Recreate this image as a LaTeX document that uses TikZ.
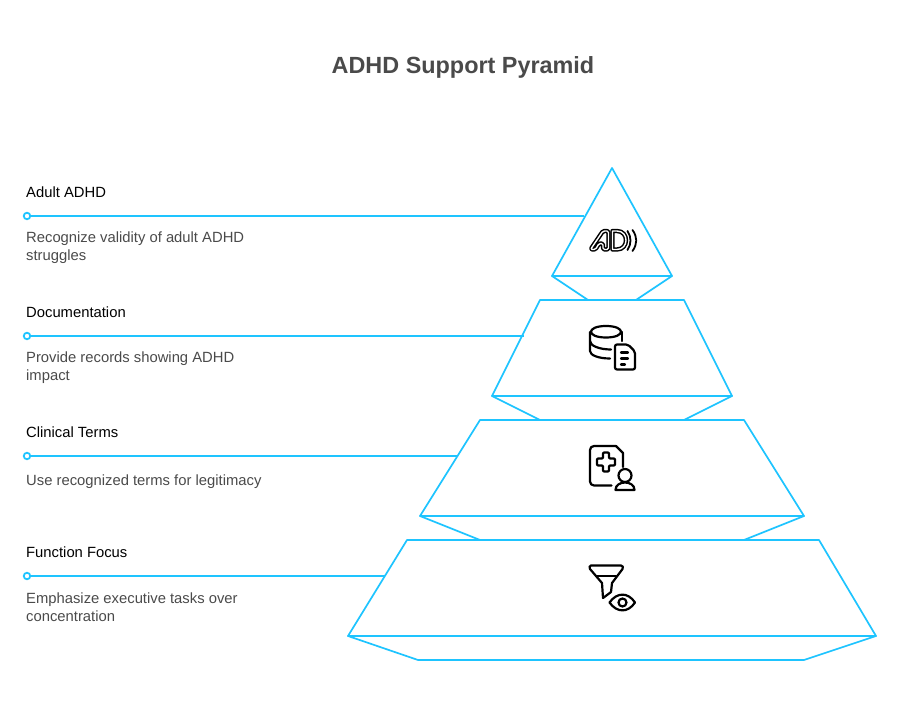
\documentclass[tikz,border=0pt]{standalone}
\usepackage{fontspec}
\setmainfont{Liberation Sans}
\definecolor{cy}{HTML}{1EC4FF}
\definecolor{tx}{HTML}{4A4A4A}
\tikzset{
 shp/.style={draw=cy,line width=1.7pt,line join=round,fill=white},
 lead/.style={draw=cy,line width=1.7pt},
 dotn/.style={circle,draw=cy,line width=1.8pt,fill=white,inner sep=0pt,minimum size=6.5pt},
 ttl/.style={anchor=base west,inner sep=0pt,font=\fontsize{14.8}{17}\selectfont,text=black},
 dsc/.style={anchor=base west,inner sep=0pt,font=\fontsize{14.8}{18}\selectfont,text=tx},
 ico/.style={draw=black,line width=2.2pt,line join=round,line cap=round},
 dbl/.style={draw=black,line width=1.5pt,double=white,double distance=1.4pt,line join=round,line cap=round}
}
\begin{document}
\begin{tikzpicture}[x=1pt,y=-1pt]
\useasboundingbox (0,0) rectangle (900,708);
\node[anchor=base,inner sep=0pt,font=\fontsize{23.4}{28}\selectfont\bfseries,text=tx] (title) at (463,74) {ADHD Support Pyramid};

% pyramid
\draw[shp] (552,276) -- (588,300) -- (636,300) -- (672,276) -- cycle;
\draw[shp] (612,168) -- (552,276) -- (672,276) -- cycle;
\draw[shp] (492,396) -- (540,420) -- (684,420) -- (732,396) -- cycle;
\draw[shp] (540,300) -- (684,300) -- (732,396) -- (492,396) -- cycle;
\draw[shp] (420,516) -- (480,540) -- (744,540) -- (804,516) -- cycle;
\draw[shp] (480,420) -- (744,420) -- (804,516) -- (420,516) -- cycle;
\draw[shp] (348,636) -- (418,660) -- (804,660) -- (876,636) -- cycle;
\draw[shp] (407,540) -- (819,540) -- (876,636) -- (348,636) -- cycle;

% leaders
\coordinate (e1) at (584,216);
\coordinate (e2) at (524,336);
\coordinate (e3) at (458,456);
\coordinate (e4) at (385,576);
\node[dotn] (d1) at (27,216) {};
\node[dotn] (d2) at (27,336) {};
\node[dotn] (d3) at (27,456) {};
\node[dotn] (d4) at (27,576) {};
\draw[lead] (d1) -- (e1);
\draw[lead] (d2) -- (e2);
\draw[lead] (d3) -- (e3);
\draw[lead] (d4) -- (e4);

% texts
\node[ttl] (t1) at (26,197.5) {Adult ADHD};
\node[dsc] (s1a) at (26,243) {Recognize validity of adult ADHD};
\node[dsc] (s1b) at (26,261) {struggles};
\node[ttl] (t2) at (26,317.5) {Documentation};
\node[dsc] (s2a) at (26,363) {Provide records showing ADHD};
\node[dsc] (s2b) at (26,381) {impact};
\node[ttl] (t3) at (26,437.5) {Clinical Terms};
\node[dsc] (s3a) at (26,485.5) {Use recognized terms for legitimacy};
\node[ttl] (t4) at (26,557.5) {Function Focus};
\node[dsc] (s4a) at (26,603) {Emphasize executive tasks over};
\node[dsc] (s4b) at (26,621) {concentration};

% icon 1: AD))
\draw[dbl,rounded corners=1.5pt] (590.5,249.5) -- (603,231) -- (608.5,231) -- (608.5,249.5) -- (603,249.5) -- (603,243.5) -- (599,243.5) -- (595.5,249.5) -- cycle;
\draw[dbl] (612.5,231) -- (612.5,249.5) -- (617,249.5) .. controls (629,249.5) and (629,231) .. (617,231) -- cycle;
\draw[ico,line width=1.8pt] (627.5,231) .. controls (631.5,237) and (631.5,244) .. (627.5,250);
\draw[ico,line width=1.8pt] (632.5,230) .. controls (637.5,237) and (637.5,244) .. (632.5,251);

% icon 2: database + document
\draw[ico] (606,326) .. controls (586,326) and (586,337.5) .. (606,337.5) .. controls (626,337.5) and (626,326) .. (606,326) -- cycle;
\draw[ico] (590,332) -- (590,351) .. controls (590,355) and (598,358.5) .. (610,358.5);
\draw[ico] (590,341) .. controls (590,346) and (600,349.5) .. (611,349.5);
\draw[ico] (622,332) -- (622,341);
\draw[ico,rounded corners=2pt] (615,344.5) -- (628,344.5) -- (635,351.5) -- (635,369.5) -- (615,369.5) -- cycle;
\draw[ico] (621,352.5) -- (628,352.5) (621,358.5) -- (628,358.5) (621,364.5) -- (625,364.5);

% icon 3: medical file + person
\draw[ico,rounded corners=4pt] (611.5,485.5) -- (590,485.5) -- (590,446) -- (616,446);
\draw[ico] (616,446) -- (623,453) -- (623,467);
\draw[ico,rounded corners=1pt] (603,452.5) -- (609,452.5) -- (609,458.5) -- (615,458.5) -- (615,465.5) -- (609,465.5) -- (609,471.5) -- (603,471.5) -- (603,465.5) -- (597,465.5) -- (597,458.5) -- (603,458.5) -- cycle;
\draw[ico] (625,475.5) circle (6.5pt);
\draw[ico] (615.5,490) .. controls (615.5,480) and (634.5,480) .. (634.5,490) -- cycle;

% icon 4: funnel + eye
\draw[ico] (591,565.5) -- (621,565.5) .. controls (623,565.5) and (623.5,567.5) .. (622.5,569) -- (612,583) -- (611,592) -- (603,598) -- (602,583) -- (590,569) .. controls (589,567.5) and (589.5,565.5) .. (591,565.5) -- cycle;
\draw[ico] (596.5,576) -- (616,576);
\draw[ico] (609.5,602.5) .. controls (617,592) and (628,592) .. (635,602.5) .. controls (628,613) and (617,613) .. (609.5,602.5) -- cycle;
\draw[ico] (622.5,602.5) circle (4pt);
\end{tikzpicture}
\end{document}
